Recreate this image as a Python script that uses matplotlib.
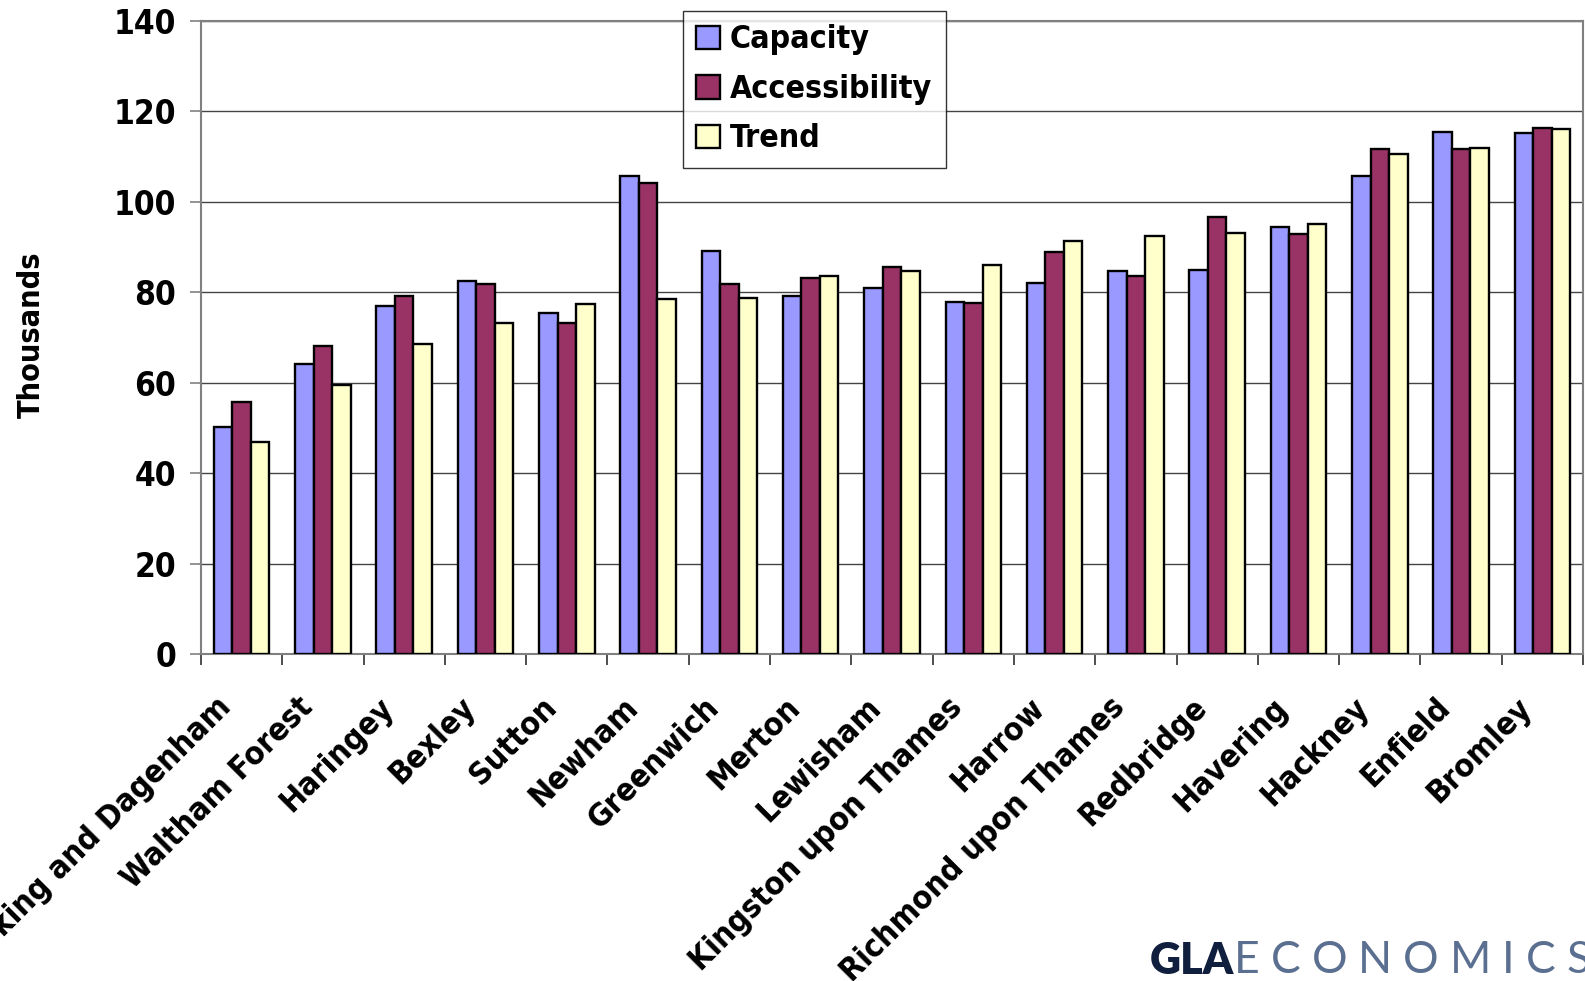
import matplotlib
matplotlib.use("Agg")
import matplotlib.pyplot as plt
import matplotlib.transforms as mtransforms
import numpy as np

boroughs = ["Barking and Dagenham", "Waltham Forest", "Haringey", "Bexley", "Sutton",
            "Newham", "Greenwich", "Merton", "Lewisham", "Kingston upon Thames", "Harrow",
            "Richmond upon Thames", "Redbridge", "Havering", "Hackney", "Enfield", "Bromley"]
capacity = [50.2, 64.1, 77.0, 82.6, 75.5, 105.7, 89.1, 79.2, 81.0, 77.9, 82.1,
            84.6, 84.9, 94.5, 105.8, 115.5, 115.2]
accessibility = [55.7, 68.1, 79.1, 81.8, 73.2, 104.1, 81.9, 83.1, 85.6, 77.6, 88.8,
                 83.5, 96.6, 92.9, 111.8, 111.8, 116.3]
trend = [46.8, 59.6, 68.5, 73.2, 77.4, 78.5, 78.8, 83.7, 84.8, 86.1, 91.3,
         92.4, 93.2, 95.0, 110.6, 112.0, 116.1]
yticks = [0, 20, 40, 60, 80, 100, 120, 140]

plt.rcParams['font.family'] = ['DejaVu Sans']
plt.rcParams['font.stretch'] = 'condensed'
plt.rcParams['font.weight'] = 'bold'

fig = plt.figure(figsize=(15.85, 9.81), dpi=100)
ax = fig.add_axes([201 / 1585, 1 - 654 / 981, (1583 - 201) / 1585, (654 - 21) / 981])

x = np.arange(len(boroughs)) + 0.5
w = 0.2275
series = [("Capacity", capacity, "#9999FF"),
          ("Accessibility", accessibility, "#993366"),
          ("Trend", trend, "#FFFFCC")]
for k, (name, vals, col) in enumerate(series):
    ax.bar(x + (k - 1) * w, vals, width=w, color=col, edgecolor="black",
           linewidth=1.7, label=name, zorder=3)

ax.set_xlim(0, len(boroughs))
ax.set_ylim(0, 140)
ax.set_yticks(yticks)
ax.set_yticklabels([str(t) for t in yticks], fontsize=24, fontweight='bold')
ax.yaxis.grid(True, color="#444444", linewidth=1.0, zorder=0)
ax.tick_params(axis='y', length=8, width=1.2, color="#808080", pad=10)

# group boundaries get the tick marks, centres get the names
ax.set_xticks(np.arange(len(boroughs) + 1), minor=True)
ax.set_xticks(x)
ax.set_xticklabels(boroughs, rotation=45, ha='right', va='top',
                   rotation_mode='anchor', fontsize=23, fontweight='bold')
ax.tick_params(axis='x', which='major', length=0, pad=0)
ax.tick_params(axis='x', which='minor', length=8, width=1.2, color="#303030")
shift = mtransforms.ScaledTranslation(-26 / 100, -38 / 100, fig.dpi_scale_trans)
for lab in ax.get_xticklabels():
    lab.set_transform(lab.get_transform() + shift)

for s in ax.spines.values():
    s.set_color("#808080")
    s.set_linewidth(1.5)

fig.text(31 / 1585, 1 - 335 / 981, "Thousands", rotation=90, fontsize=22,
         fontweight='bold', ha='center', va='center')

leg = fig.legend(loc='upper left', bbox_to_anchor=(683 / 1585, 1 - 11 / 981),
                 bbox_transform=fig.transFigure, borderaxespad=0, frameon=True,
                 fancybox=False, shadow=False, prop={'size': 23, 'weight': 'bold'},
                 handlelength=0.75, handleheight=0.75, handletextpad=0.3,
                 labelspacing=0.58, borderpad=0.42)
leg.get_frame().set_edgecolor("black")
leg.get_frame().set_linewidth(1.0)

# logo text in the bottom right corner
fig.text(1150 / 1585, 0, "GLA", fontsize=31, fontweight='heavy', fontstretch='normal',
         color="#0f1f3d", family=['Lato', 'DejaVu Sans'], ha='left', va='bottom')
renderer = fig.canvas.get_renderer()
xpos = 1234
for ch in "ECONOMICS":
    t = fig.text(xpos / 1585, 0, ch, fontsize=32, fontweight='normal', fontstretch='normal',
                 color="#5b7090", family=['Lato', 'DejaVu Sans'], ha='left', va='bottom')
    xpos += t.get_window_extent(renderer).width + 11

fig.savefig("out.png", dpi=100)
